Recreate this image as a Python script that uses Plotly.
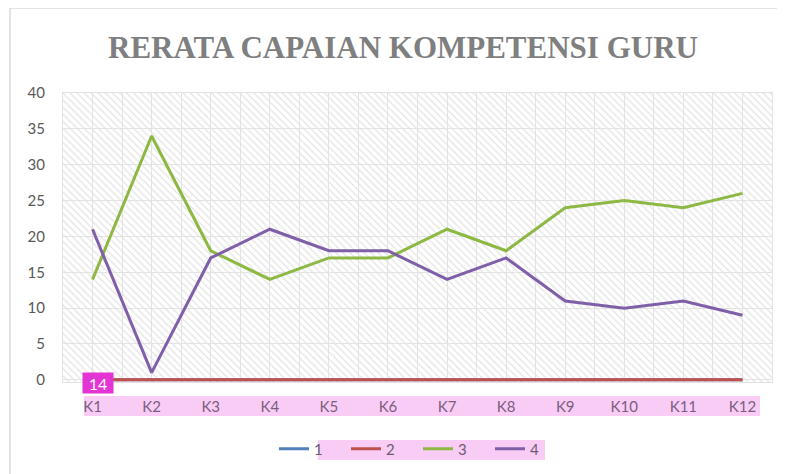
import plotly.graph_objects as go

categories = ["K1", "K2", "K3", "K4", "K5", "K6", "K7", "K8", "K9", "K10", "K11", "K12"]
series_names = ["1", "2", "3", "4"]
s1 = [0, 0, 0, 0, 0, 0, 0, 0, 0, 0, 0, 0]
s2 = [0, 0, 0, 0, 0, 0, 0, 0, 0, 0, 0, 0]
s3 = [14, 34, 18, 14, 17, 17, 21, 18, 24, 25, 24, 26]
s4 = [21, 1, 17, 21, 18, 18, 14, 17, 11, 10, 11, 9]
y_ticks = [0, 5, 10, 15, 20, 25, 30, 35, 40]
badge_text = "14"

colors = ["#4F81BD", "#C0504D", "#8DB843", "#7F5FA8"]
Y_MIN, Y_MAX = -0.3, 40
xs = list(range(len(categories)))

fig = go.Figure()
# hatched plot background
fig.add_trace(go.Bar(
    x=xs, y=[Y_MAX - Y_MIN] * len(xs), base=Y_MIN, width=1,
    marker=dict(color="rgba(0,0,0,0)", line=dict(width=0),
                pattern=dict(shape="\\", fgcolor="#E4E4E4", bgcolor="rgba(0,0,0,0)",
                             size=5, solidity=0.25, fillmode="replace")),
    showlegend=False, hoverinfo="skip"))

for name, vals, c in zip(series_names, [s1, s2, s3, s4], colors):
    fig.add_trace(go.Scatter(x=xs, y=vals, mode="lines", name=name,
                             line=dict(color=c, width=3)))

OFF = 8  # page body margin
W, H = 785 - OFF, 474 - OFF
L, R, T, B = 63 - OFF, 13, 93 - OFF, 92
pw, ph = W - L - R, H - T - B
def px(x): return (x - OFF - L) / pw
def py(y): return (H - B - (y - OFF)) / ph

fig.update_layout(
    width=W, height=H, margin=dict(l=L, r=R, t=T, b=B, autoexpand=False),
    paper_bgcolor="white", plot_bgcolor="white", bargap=0,
    title=dict(text="<b>RERATA CAPAIAN KOMPETENSI GURU</b>", x=(403 - OFF) / W, xanchor="center",
               y=1 - (47 - OFF) / H, yanchor="middle", yref="container",
               font=dict(family="Liberation Serif", size=31, color="#7F7F7F")),
    font=dict(family="Lato", color="#595959"),
    legend=dict(orientation="h", x=px(274), xanchor="left", y=py(449), yanchor="middle",
                font=dict(size=15, color="#6E5A74"), bgcolor="rgba(0,0,0,0)",
                entrywidth=27, entrywidthmode="pixels", tracegroupgap=0),
    shapes=[
        dict(type="rect", xref="paper", yref="paper", x0=px(10), x1=1.3, y0=-0.6, y1=py(8),
             line=dict(color="#DCDCDC", width=1.5), fillcolor="rgba(0,0,0,0)", layer="below"),
        dict(type="rect", xref="paper", yref="paper", x0=px(84), x1=px(760), y0=py(416), y1=py(396),
             line=dict(width=0), fillcolor="#F8CCF5", layer="below"),
        dict(type="rect", xref="paper", yref="paper", x0=px(318), x1=px(545), y0=py(460), y1=py(440),
             line=dict(width=0), fillcolor="#F8CCF5", layer="below"),
    ],
    annotations=[
        dict(text=badge_text, xref="paper", yref="paper", x=px(97.5), y=py(383),
             xanchor="center", yanchor="middle", showarrow=False,
             font=dict(family="Lato", size=16, color="white"),
             bgcolor="#E434D4", borderpad=2, width=26, height=16),
    ],
)
fig.update_xaxes(
    range=[-0.5, len(categories) - 0.5], tickmode="array", tickvals=xs, ticktext=categories,
    showgrid=True, gridcolor="#E3E3E3", gridwidth=1, zeroline=False,
    minor=dict(tickmode="linear", tick0=-0.5, dtick=1, showgrid=True, gridcolor="#E3E3E3", gridwidth=1),
    showline=True, linecolor="#E3E3E3", mirror=True, ticks="",
    tickfont=dict(size=15, color="#7A5E80"), ticklabelstandoff=11,
)
fig.update_yaxes(
    range=[Y_MIN, Y_MAX], tickmode="array", tickvals=y_ticks,
    showgrid=True, gridcolor="#E3E3E3", gridwidth=1, zeroline=False,
    showline=True, linecolor="#E3E3E3", mirror=True, ticks="",
    tickfont=dict(size=15, color="#595959"), ticklabelstandoff=14,
)
fig.write_html("out.html")
